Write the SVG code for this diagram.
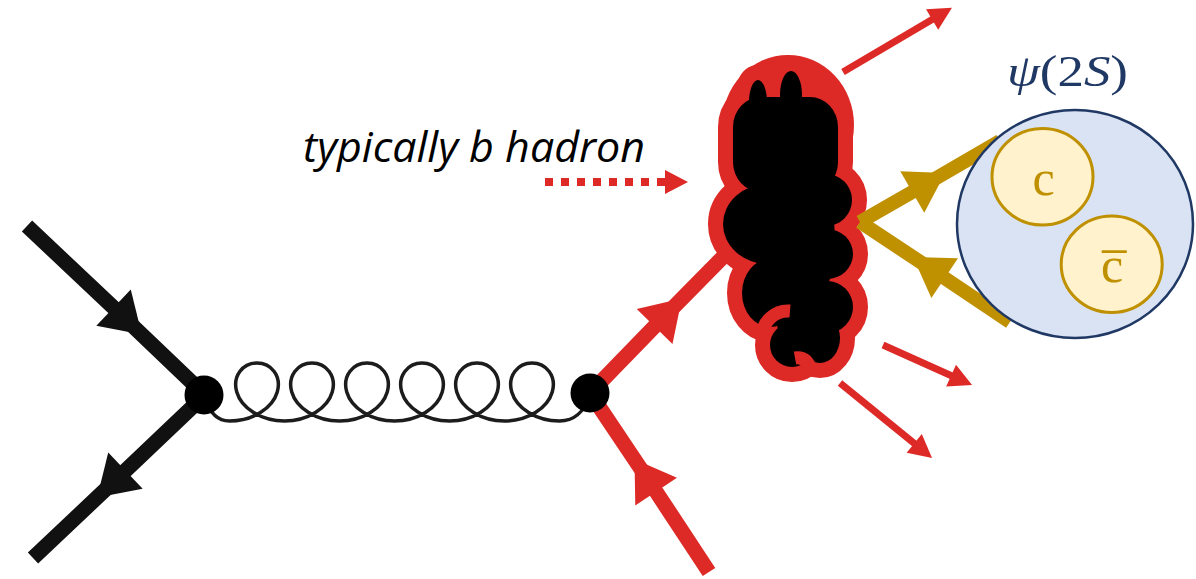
<svg xmlns="http://www.w3.org/2000/svg" width="1196" height="579" viewBox="0 0 1196 579">
  <style>
    .fermion { fill: none; stroke-width: 15; stroke-linecap: butt; }
    .quark-k { stroke: #111111; }
    .quark-r { stroke: #dd2a27; }
    .quark-g { stroke: #bf9000; stroke-width: 14; }
    .thin { fill: none; stroke: #dd2a27; stroke-width: 7; }
    .gluon { fill: none; stroke: #1c1c1c; stroke-width: 3.5; }
    .vertex { fill: #000000; }
    .blob-edge { fill: #dd2a27; stroke: #dd2a27; stroke-width: 30; }
    .blob-core { fill: #000000; }
    .blob-arc { fill: none; stroke: #dd2a27; stroke-width: 13; }
    .label { font-family: "Open Sans", "Liberation Sans", sans-serif; font-style: italic; font-size: 42px; fill: #000000; }
    .math { font-family: "Liberation Serif", "DejaVu Serif", serif; font-size: 44px; fill: #203864; }
    .quark-lbl { font-family: "Liberation Serif", "DejaVu Serif", serif; font-size: 50px; fill: #bf9000; text-anchor: middle; }
  </style>
  <defs>
    <marker id="midK" markerUnits="userSpaceOnUse" orient="auto" overflow="visible" markerWidth="1" markerHeight="1" refX="0" refY="0">
      <path d="M-2,-25 L37,0 L-2,25 Z" fill="#111111"/>
    </marker>
    <marker id="midR" markerUnits="userSpaceOnUse" orient="auto" overflow="visible" markerWidth="1" markerHeight="1" refX="0" refY="0">
      <path d="M-2,-25 L37,0 L-2,25 Z" fill="#dd2a27"/>
    </marker>
    <marker id="midG" markerUnits="userSpaceOnUse" orient="auto" overflow="visible" markerWidth="1" markerHeight="1" refX="0" refY="0">
      <path d="M-2,-24 L36,0 L-2,24 Z" fill="#bf9000"/>
    </marker>
    <marker id="endR" markerUnits="userSpaceOnUse" orient="auto" overflow="visible" markerWidth="1" markerHeight="1" refX="0" refY="0">
      <path d="M-1,-12 L22,0 L-1,12 Z" fill="#dd2a27"/>
    </marker>
    <!-- bumps shared by the rim and the core of the hadron blob -->
    <g id="bumps">
      <ellipse cx="758" cy="102" rx="9" ry="22"/>
      <ellipse cx="791" cy="95" rx="11" ry="24"/>
      <rect x="733" y="97" width="105" height="95" rx="28" ry="30"/>
      <ellipse cx="768" cy="224" rx="45" ry="40"/>
      <ellipse cx="826" cy="200" rx="26" ry="26"/>
      <ellipse cx="827" cy="254" rx="26" ry="25"/>
      <ellipse cx="827" cy="307" rx="26" ry="26"/>
      <ellipse cx="770" cy="293" rx="28" ry="34"/>
      <ellipse cx="792" cy="345" rx="22" ry="22"/>
      <ellipse cx="820" cy="338" rx="20" ry="25"/>
      <ellipse cx="795" cy="240" rx="40" ry="80"/>
      <ellipse cx="805" cy="322" rx="28" ry="32"/>
    </g>
  </defs>

  <!-- connectors: fermion lines, gluon and outgoing tracks -->
  <g id="connectors">
    <path class="fermion quark-k" d="M27,226 L115,309 L205,395" marker-mid="url(#midK)"/>
    <path class="fermion quark-k" d="M205,395 L124,472 L33,558" marker-mid="url(#midK)"/>
    <path class="gluon" d="M205,398 C210,414 218,421 229.5,421
      c23.36,0 43.17,-12.98 47.75,-29 c4.58,-16.02 -6.05,-29 -20.25,-29
      c-14.2,0 -24.83,12.98 -20.25,29 c4.58,16.02 24.39,29 47.75,29 c23.36,0 43.17,-12.98 47.75,-29 c4.58,-16.02 -6.05,-29 -20.25,-29
      c-14.2,0 -24.83,12.98 -20.25,29 c4.58,16.02 24.39,29 47.75,29 c23.36,0 43.17,-12.98 47.75,-29 c4.58,-16.02 -6.05,-29 -20.25,-29
      c-14.2,0 -24.83,12.98 -20.25,29 c4.58,16.02 24.39,29 47.75,29 c23.36,0 43.17,-12.98 47.75,-29 c4.58,-16.02 -6.05,-29 -20.25,-29
      c-14.2,0 -24.83,12.98 -20.25,29 c4.58,16.02 24.39,29 47.75,29 c23.36,0 43.17,-12.98 47.75,-29 c4.58,-16.02 -6.05,-29 -20.25,-29
      c-14.2,0 -24.83,12.98 -20.25,29 c4.58,16.02 24.39,29 47.75,29 c23.36,0 43.17,-12.98 47.75,-29 c4.58,-16.02 -6.05,-29 -20.25,-29
      c-14.2,0 -24.83,12.98 -20.25,29 c4.58,16.02 24.39,29 47.75,29
      C575,421 584,412 590,395"/>
    <path class="fermion quark-r" d="M590,393 L656,325 L724,256" marker-mid="url(#midR)"/>
    <path class="fermion quark-r" d="M709,572 L655,490 L590,393" marker-mid="url(#midR)"/>
    <path class="thin" d="M843,72 L933,19" marker-end="url(#endR)"/>
    <path class="thin" d="M883,345 L952,376" marker-end="url(#endR)"/>
    <path class="thin" d="M840,383 L915,444" marker-end="url(#endR)"/>
    <!-- dotted pointer towards the hadron -->
    <line x1="545" y1="182" x2="665" y2="182" stroke="#dd2a27" stroke-width="8" stroke-dasharray="8 8"/>
    <polygon points="665,170 688,182 665,194" fill="#dd2a27"/>
  </g>

  <!-- hadron blob: union of bumps with a red rim -->
  <g id="hadron">
    <ellipse cx="788" cy="125" rx="66" ry="70" fill="#dd2a27"/>
    <use href="#bumps" class="blob-edge"/>
    <use href="#bumps" class="blob-core"/>
    <path class="blob-arc" d="M790,311 A26,26 0 0 0 762,336"/>
    <path class="blob-arc" stroke-width="10" d="M795,358 Q806,356 811,369"/>
  </g>

  <!-- charm pair tracks feeding the charmonium state -->
  <g id="charm-tracks">
    <path class="fermion quark-g" d="M860,222 L914,191 L1000,141" marker-mid="url(#midG)"/>
    <path class="fermion quark-g" d="M1010,322 L943,277 L860,222" marker-mid="url(#midG)"/>
  </g>

  <g id="vertex-left">
    <circle class="vertex" cx="204" cy="395" r="19.5"/>
  </g>
  <g id="vertex-right">
    <circle class="vertex" cx="590" cy="393" r="19.5"/>
  </g>

  <g id="label-hadron">
    <text class="label" x="303" y="162" textLength="342" lengthAdjust="spacingAndGlyphs">typically b hadron</text>
  </g>

  <g id="psi2s">
    <ellipse cx="1075" cy="224" rx="118" ry="114" fill="#dae3f3" stroke="#203864" stroke-width="2.5"/>
    <text class="math" x="1007" y="86" textLength="121" lengthAdjust="spacingAndGlyphs"><tspan font-style="italic">ψ</tspan>(2<tspan font-style="italic">S</tspan>)</text>
  </g>
  <g id="quark-c">
    <ellipse cx="1042.5" cy="176.7" rx="50.5" ry="48.3" fill="#fff2cc" stroke="#bf9000" stroke-width="3"/>
    <text class="quark-lbl" x="1043.5" y="195">c</text>
  </g>
  <g id="quark-cbar">
    <ellipse cx="1111.7" cy="264.3" rx="50.5" ry="48.3" fill="#fff2cc" stroke="#bf9000" stroke-width="3"/>
    <text class="quark-lbl" x="1112" y="282">c&#x305;</text>
  </g>
</svg>
